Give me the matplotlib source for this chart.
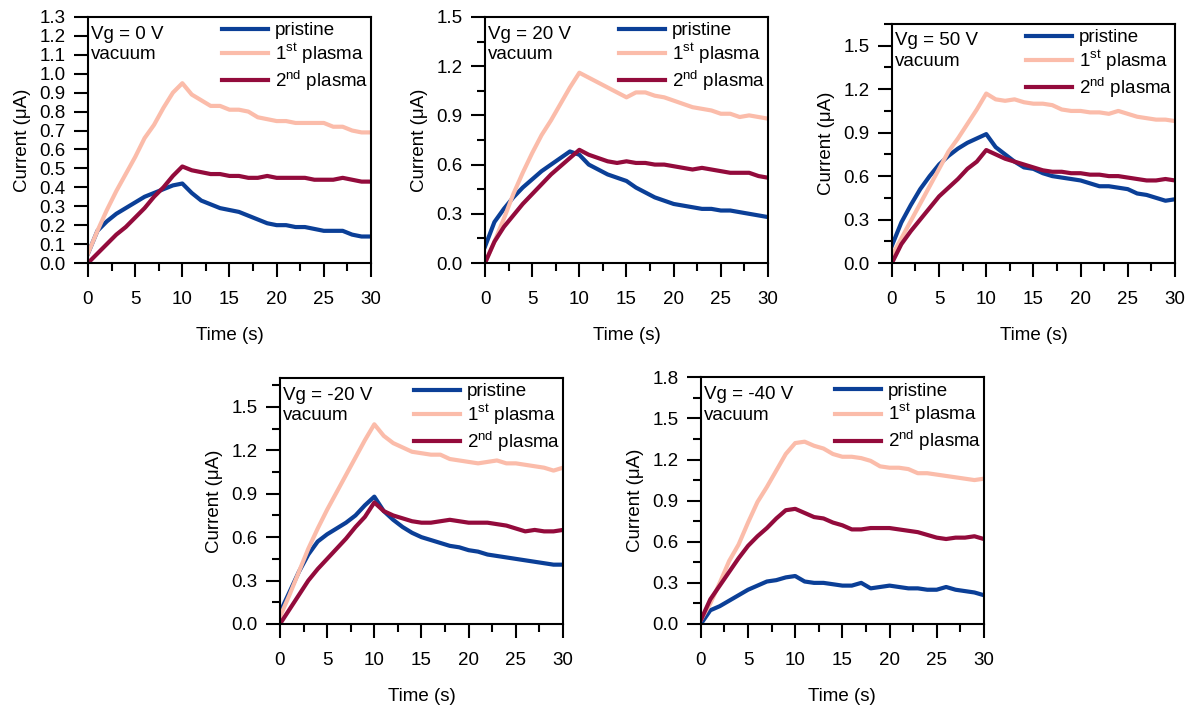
import matplotlib
matplotlib.use("Agg")
import matplotlib.pyplot as plt
from matplotlib.ticker import MultipleLocator

plt.rcParams['font.family'] = ['Liberation Sans', 'DejaVu Sans']
plt.rcParams['mathtext.fontset'] = 'custom'
plt.rcParams['mathtext.rm'] = 'Liberation Sans'

# time axis, seconds
t = list(range(0, 31))

# Vg = 0 V
p0_pristine = [0.05, 0.17, 0.22, 0.26, 0.29, 0.32, 0.35, 0.37, 0.39, 0.41, 0.42,
               0.37, 0.33, 0.31, 0.29, 0.28, 0.27, 0.25, 0.23, 0.21, 0.20,
               0.20, 0.19, 0.19, 0.18, 0.17, 0.17, 0.17, 0.15, 0.14, 0.14]
p0_first = [0.05, 0.17, 0.28, 0.38, 0.47, 0.56, 0.66, 0.73, 0.82, 0.90, 0.95,
            0.89, 0.86, 0.83, 0.83, 0.81, 0.81, 0.80, 0.77, 0.76, 0.75,
            0.75, 0.74, 0.74, 0.74, 0.74, 0.72, 0.72, 0.70, 0.69, 0.69]
p0_second = [0.00, 0.05, 0.10, 0.15, 0.19, 0.24, 0.29, 0.35, 0.40, 0.46, 0.51,
             0.49, 0.48, 0.47, 0.47, 0.46, 0.46, 0.45, 0.45, 0.46, 0.45,
             0.45, 0.45, 0.45, 0.44, 0.44, 0.44, 0.45, 0.44, 0.43, 0.43]

# Vg = 20 V
p20_pristine = [0.10, 0.25, 0.33, 0.40, 0.46, 0.51, 0.56, 0.60, 0.64, 0.68, 0.66,
                0.60, 0.57, 0.54, 0.52, 0.50, 0.46, 0.43, 0.40, 0.38, 0.36,
                0.35, 0.34, 0.33, 0.33, 0.32, 0.32, 0.31, 0.30, 0.29, 0.28]
p20_first = [0.00, 0.13, 0.27, 0.42, 0.55, 0.67, 0.78, 0.87, 0.97, 1.07, 1.16,
             1.13, 1.10, 1.07, 1.04, 1.01, 1.04, 1.04, 1.02, 1.01, 0.99,
             0.97, 0.95, 0.94, 0.93, 0.91, 0.91, 0.89, 0.90, 0.89, 0.88]
p20_second = [0.00, 0.13, 0.22, 0.29, 0.36, 0.42, 0.48, 0.54, 0.59, 0.64, 0.69,
              0.66, 0.64, 0.62, 0.61, 0.62, 0.61, 0.61, 0.60, 0.60, 0.59,
              0.58, 0.57, 0.58, 0.57, 0.56, 0.55, 0.55, 0.55, 0.53, 0.52]

# Vg = 50 V
p50_pristine = [0.12, 0.28, 0.40, 0.51, 0.60, 0.68, 0.74, 0.79, 0.83, 0.86, 0.89,
                0.80, 0.75, 0.70, 0.66, 0.65, 0.62, 0.60, 0.59, 0.58, 0.57,
                0.55, 0.53, 0.53, 0.52, 0.51, 0.48, 0.47, 0.45, 0.43, 0.44]
p50_first = [0.05, 0.17, 0.29, 0.41, 0.53, 0.65, 0.77, 0.86, 0.96, 1.06, 1.17,
             1.13, 1.12, 1.13, 1.11, 1.10, 1.10, 1.09, 1.06, 1.05, 1.05,
             1.04, 1.04, 1.03, 1.05, 1.03, 1.01, 1.00, 0.99, 0.99, 0.98]
p50_second = [0.00, 0.13, 0.22, 0.30, 0.38, 0.46, 0.52, 0.58, 0.65, 0.70, 0.78,
              0.75, 0.72, 0.70, 0.68, 0.66, 0.64, 0.63, 0.63, 0.62, 0.62,
              0.61, 0.61, 0.60, 0.60, 0.59, 0.58, 0.57, 0.57, 0.58, 0.57]

# Vg = -20 V
m20_pristine = [0.08, 0.22, 0.36, 0.48, 0.57, 0.62, 0.66, 0.70, 0.75, 0.82, 0.88,
                0.78, 0.72, 0.67, 0.63, 0.60, 0.58, 0.56, 0.54, 0.53, 0.51,
                0.50, 0.48, 0.47, 0.46, 0.45, 0.44, 0.43, 0.42, 0.41, 0.41]
m20_first = [0.05, 0.20, 0.36, 0.52, 0.66, 0.79, 0.91, 1.03, 1.15, 1.27, 1.38,
             1.30, 1.25, 1.22, 1.19, 1.18, 1.17, 1.17, 1.14, 1.13, 1.12,
             1.11, 1.12, 1.13, 1.11, 1.11, 1.10, 1.09, 1.08, 1.06, 1.08]
m20_second = [0.00, 0.10, 0.20, 0.30, 0.38, 0.45, 0.52, 0.59, 0.67, 0.74, 0.84,
              0.78, 0.75, 0.73, 0.71, 0.70, 0.70, 0.71, 0.72, 0.71, 0.70,
              0.70, 0.70, 0.69, 0.68, 0.66, 0.64, 0.65, 0.64, 0.64, 0.65]

# Vg = -40 V
m40_pristine = [0.00, 0.10, 0.13, 0.17, 0.21, 0.25, 0.28, 0.31, 0.32, 0.34, 0.35,
                0.31, 0.30, 0.30, 0.29, 0.28, 0.28, 0.30, 0.26, 0.27, 0.28,
                0.27, 0.26, 0.26, 0.25, 0.25, 0.27, 0.25, 0.24, 0.23, 0.21]
m40_first = [0.03, 0.15, 0.30, 0.46, 0.58, 0.74, 0.89, 1.00, 1.12, 1.24, 1.32,
             1.33, 1.30, 1.28, 1.24, 1.22, 1.22, 1.21, 1.19, 1.15, 1.14,
             1.14, 1.13, 1.10, 1.10, 1.09, 1.08, 1.07, 1.06, 1.05, 1.06]
m40_second = [0.03, 0.18, 0.28, 0.38, 0.48, 0.57, 0.64, 0.70, 0.77, 0.83, 0.84,
              0.81, 0.78, 0.77, 0.74, 0.72, 0.69, 0.69, 0.70, 0.70, 0.70,
              0.69, 0.68, 0.67, 0.65, 0.63, 0.62, 0.63, 0.63, 0.64, 0.62]

labels = ["pristine", "1$^{\\mathregular{st}}$ plasma", "2$^{\\mathregular{nd}}$ plasma"]
colors = ["#0b3f97", "#fbbcaa", "#930b3c"]

panels = [
    ("Vg = 0 V", p0_pristine, p0_first, p0_second, 1.3, 0.1, None),
    ("Vg = 20 V", p20_pristine, p20_first, p20_second, 1.5, 0.3, 0.15),
    ("Vg = 50 V", p50_pristine, p50_first, p50_second, 1.65, 0.3, 0.15),
    ("Vg = -20 V", m20_pristine, m20_first, m20_second, 1.7, 0.3, 0.15),
    ("Vg = -40 V", m40_pristine, m40_first, m40_second, 1.8, 0.3, 0.15),
]

# axes boxes in figure fractions (left, bottom, width, height)
boxes = [
    (0.0737, 0.628, 0.237, 0.348),
    (0.4062, 0.628, 0.237, 0.348),
    (0.7470, 0.628, 0.237, 0.338),
    (0.2345, 0.1174, 0.237, 0.348),
    (0.5870, 0.1174, 0.237, 0.349),
]

fs = 13.5
fig = plt.figure(figsize=(11.94, 7.07), dpi=100)

for (title, pr, f1, f2, ytop, ymaj, ymin), box in zip(panels, boxes):
    ax = fig.add_axes(box)
    for series, lab, c in zip([pr, f1, f2], labels, colors):
        ax.plot(t, series, color=c, lw=3, label=lab)
    ax.set_xlim(0, 30)
    ax.set_ylim(0, ytop)
    ax.xaxis.set_major_locator(MultipleLocator(5))
    ax.xaxis.set_minor_locator(MultipleLocator(2.5))
    ax.yaxis.set_major_locator(MultipleLocator(ymaj))
    if ymin:
        ax.yaxis.set_minor_locator(MultipleLocator(ymin))
    ax.yaxis.set_major_formatter(plt.FormatStrFormatter('%.1f'))
    ax.tick_params(which='major', direction='out', length=10, width=1.5,
                   labelsize=fs)
    ax.tick_params(which='minor', direction='out', length=6, width=1.5)
    ax.tick_params(axis='x', which='major', pad=10)
    ax.tick_params(axis='y', which='major', pad=6)
    for s in ax.spines.values():
        s.set_linewidth(1.5)
    ax.set_xlabel("Time (s)", fontsize=fs, labelpad=14)
    ax.set_ylabel("Current (\u03bcA)", fontsize=fs, labelpad=6)
    ax.text(0.012, 0.965, title + "\nvacuum", transform=ax.transAxes,
            ha='left', va='top', fontsize=fs, linespacing=1.3)
    ax.legend(loc='upper right', bbox_to_anchor=(1.0, 0.99), frameon=False,
              fontsize=fs, handlelength=2.45, handletextpad=0.35,
              borderaxespad=0.0, labelspacing=0.12, borderpad=0.15)

fig.savefig("out.png", dpi=100)
